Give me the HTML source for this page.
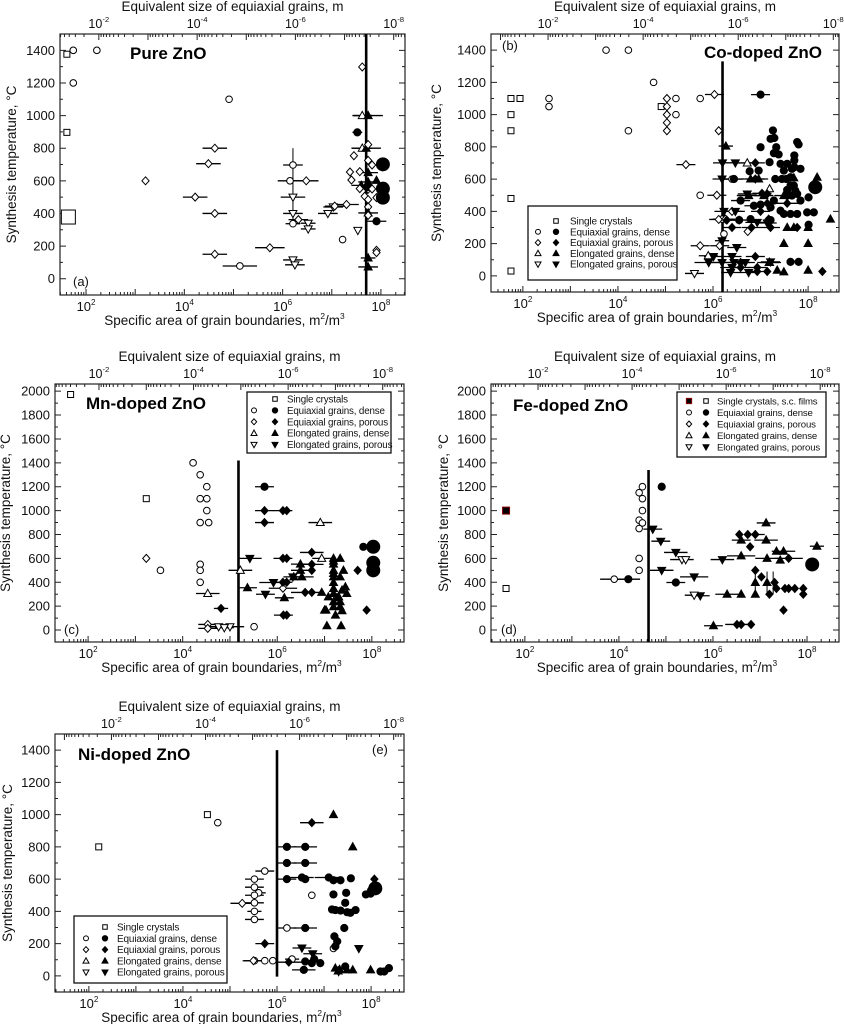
<!DOCTYPE html>
<html><head><meta charset="utf-8">
<style>
html,body{margin:0;padding:0;background:#fff;}
svg{display:block;font-family:"Liberation Sans",sans-serif;}
</style></head>
<body>
<svg id="fig" width="844" height="1024" viewBox="0 0 844 1024" xmlns="http://www.w3.org/2000/svg"></svg>
<script>
// ===== Shared tick data =====
const yTicks1500 = [0,200,400,600,800,1000,1200,1400];
const yTicks2000 = [0,200,400,600,800,1000,1200,1400,1600,1800,2000];
const xTickExps = [2,4,6,8];
const topTickExps = [-2,-4,-6,-8];

// ===== Panel (a) Pure ZnO =====
const aX=[1.61,1.61,1.64,1.74,2.22,1.74,4.91,5.13,7.22,3.21,4.62,4.49,4.22,4.62,4.62,5.74,6.21,6.15,6.48,6.21,6.21,6.21,6.32,6.52,6.52,6.21,6.25,6.92,7.03,7.06,7.30,7.53,7.62,7.62,7.74,7.52,7.62,7.70,7.45,7.74,7.74,7.82,7.37,7.57,7.40,7.74,7.74,7.91,7.60,7.57,7.74,7.72,7.82,7.67,7.74,7.74,7.91,7.91,7.74,7.74,7.91,7.91,7.74,7.74,8.04,8.04,8.04];
const aT=[1376,897,378,1400,1400,1200,1100,78,240,600,800,705,500,400,150,190,697,600,600,500,400,337,362,340,305,115,85,400,440,445,455,296,1298,1000,1000,897,800,800,754,822,725,697,654,656,605,650,593,603,572,552,548,560,550,505,485,440,497,352,403,388,174,160,127,72,701,552,497];
const aK=["s","s","S","o","o","o","o","o","o","d","d","d","d","d","d","d","o","o","d","v","v","o","d","v","v","v","v","v","v","d","d","v","d","t","T","O","t","T","d","d","d","d","d","d","d","T","T","T","T","d","d","O","d","d","d","d","d","O","T","d","d","d","T","T","B","B","B"];
const aE=[0,0,0,0,0,0,0,0.35,0,0,0.25,0.25,0.25,0.25,0.25,0.3,0.2,0.25,0.25,0.25,0.2,0.15,0.2,0.15,0.15,0.2,0.2,0.2,0.2,0.2,0.25,0,0,0.2,0.3,0.1,0.2,0.3,0,0,0,0,0,0,0,0.2,0.2,0,0.2,0,0,0,0,0,0,0,0,0.2,0.2,0,0,0,0.15,0.2,0,0,0];
const aVX=[6.21], aVlo=[330], aVhi=[800];

// ===== Panel (b) Co-doped ZnO =====
const bX=[1.75,1.75,1.75,1.75,1.75,1.94,4.91,2.55,2.55,3.75,4.22,4.22,4.75,5.22,5.22,5.73,5.73,6.40,6.19,6.23,
5.03,5.03,5.03,5.03,5.03,6.03,6.12,6.08,5.43,5.73,6.12,6.14,6.73,6.40,6.26,5.61,5.90,6.72,7.19,7.19,
7.0,7.26,7.0,7.21,7.29,7.33,7.38,7.56,7.42,7.49,7.45,7.54,7.31,7.63,7.77,7.80,7.71,7.71,7.71,7.63,7.70,7.56,7.73,7.77,7.56,7.66,7.84,8.01,7.28,7.21,7.42,7.49,7.63,7.77,7.98,8.12,8.01,7.63,7.80,6.86,6.96,6.77,7.19,7.28,6.79,6.58,6.44,6.55,7.21,7.0,7.66,7.84,8.15,
6.89,6.89,7.03,7.14,7.14,7.0,7.17,7.21,6.81,7.77,7.56,6.40,6.29,6.55,6.89,6.58,6.93,6.58,7.14,6.93,8.30,
6.27,6.96,7.70,8.19,7.07,7.49,7.56,7.70,7.49,8.0,8.47,8.0,7.18,7.35,7.49,8.0,6.75,6.79,
6.20,6.47,6.19,6.72,6.23,6.47,6.19,6.50,6.93,7.14,6.40,6.01,5.91,6.19,6.44,6.68,6.40,6.75,6.37,7.21];
const bT=[1100,1000,900,480,30,1100,1050,1100,1050,1400,1400,900,1200,1100,1000,1100,500,600,352,260,
1100,1050,1000,950,900,1125,900,500,690,187,350,187,275,400,352,15,125,700,540,83,
1124,902,798,850,855,798,753,695,695,653,601,601,601,612,830,815,747,716,674,560,560,533,529,508,498,498,467,487,467,425,404,384,384,384,394,394,317,87,87,435,653,649,705,761,352,467,601,346,346,442,664,664,550,
701,601,512,508,450,400,352,300,300,300,450,300,346,346,120,83,52,52,27,27,27,
805,601,608,612,498,498,300,300,201,201,352,300,83,35,25,35,498,601,
701,701,601,508,400,400,218,176,332,328,120,120,83,83,83,83,52,21,21,87];
const bK=["s","s","s","s","s","s","s","o","o","o","o","o","o","o","o","o","o","o","o","o",
"d","d","d","d","d","d","d","d","d","d","d","d","d","d","d","v","t","t","t","t",
"O","O","O","O","O","O","O","O","O","O","O","O","O","O","O","O","O","O","O","O","O","O","O","O","O","O","O","O","O","O","O","O","O","O","O","O","O","O","O","O","O","O","O","O","O","O","O","O","O","O","O","O","B",
"D","D","D","D","D","D","D","D","D","D","D","D","D","D","D","D","D","D","D","D","D",
"T","T","T","T","T","T","T","T","T","T","T","T","T","T","T","T","T","T",
"V","V","V","V","V","V","V","V","V","V","V","V","V","V","V","V","V","V","V","V"];
const bE=[0,0,0,0,0,0,0,0,0,0,0,0,0,0,0,0,0,0.2,0.2,0,
0,0,0,0,0,0.2,0,0.2,0.2,0.2,0.2,0.2,0,0.2,0.2,0.2,0.2,0.2,0,0.2,
0.2,0,0,0,0,0,0,0,0,0,0,0,0,0,0,0,0,0,0,0,0,0,0,0,0,0,0,0,0,0,0,0,0,0,0,0,0,0,0,0.2,0,0,0,0,0,0.2,0.2,0,0,0,0,0,0,
0.2,0.2,0.2,0,0.25,0.2,0,0.2,0.2,0,0.3,0.2,0.2,0.2,0.2,0.2,0.2,0.2,0,0.2,0,
0.15,0.2,0,0,0.2,0.2,0,0,0,0,0,0,0.25,0,0,0,0.25,0.2,
0.2,0.2,0.2,0.2,0.2,0.2,0.15,0.2,0.25,0.2,0.2,0.2,0.3,0.25,0.2,0.2,0.25,0.2,0.2,0.2];
const bVX=[], bVlo=[], bVhi=[];

// ===== Panel (c) Mn-doped ZnO =====
const cX=[1.63,3.23,3.23,4.53,4.53,6.12,3.53,4.22,4.37,4.51,4.37,4.51,4.51,4.37,4.55,4.37,4.37,4.37,5.51,
4.53,5.22,6.91,6.94,4.76,5.0,4.88,5.42,5.75,6.33,
4.81,5.73,5.73,6.12,6.20,5.73,6.12,6.20,6.12,6.20,6.13,6.20,6.73,6.73,6.73,6.59,6.73,7.70,7.89,
5.37,6.15,6.49,6.49,6.52,6.35,5.92,7.19,7.33,7.19,7.19,7.19,7.40,7.33,7.19,7.19,7.44,7.37,7.19,7.26,7.19,7.33,7.19,7.33,7.0,7.03,7.37,7.47,7.19,7.19,6.94,7.23,7.05,7.35,7.30,7.08,
7.82,8.03,8.03,8.03];
const cT=[1972,1100,600,47,14,350,500,1400,1300,1200,1100,1100,1000,900,900,550,500,400,28,
306,500,900,600,28,28,20,600,300,445,
181,1200,1000,1000,1000,900,600,600,400,400,125,125,650,550,500,315,315,500,167,
354,270,552,500,445,445,398,600,600,552,500,445,500,445,398,348,362,334,306,270,237,237,195,195,167,167,162,306,577,474,315,125,36,36,278,278,
697,697,563,500];
const cK=["s","s","d","d","d","d","o","o","o","o","o","o","o","o","o","o","o","o","o",
"t","t","t","t","v","v","v","V","V","V",
"D","O","D","D","D","D","D","D","D","D","D","D","D","D","D","D","D","D","D",
"T","T","T","T","T","T","V","T","T","T","T","T","T","T","T","T","T","T","T","T","T","T","T","T","T","T","T","T","T","T","T","T","T","T","T","T",
"O","B","B","B"];
const cE=[0,0,0,0.2,0.2,0.3,0,0,0,0,0,0,0,0,0,0,0,0,0,
0.25,0.25,0.25,0.2,0.2,0.3,0.2,0.25,0.2,0.2,
0.15,0.2,0.2,0.2,0,0.2,0.2,0,0.2,0,0.2,0,0.25,0.25,0,0.3,0,0,0,
0.2,0.2,0.2,0.2,0.25,0,0.3,0,0,0,0,0,0,0,0,0,0,0,0,0,0,0,0,0,0,0,0,0,0,0,0,0,0,0,0,0,
0,0,0,0];
const cVX=[], cVlo=[], cVhi=[];

// ===== Panel (d) Fe-doped ZnO =====
const dX=[1.6,1.6,4.5,4.43,4.5,4.5,4.43,4.5,4.43,4.43,4.43,3.9,
4.91,4.2,5.21,8.11,
4.72,4.89,5.21,4.91,5.6,5.73,6.2,5.34,5.42,5.6,
6.01,6.3,6.6,6.9,6.6,7.13,7.13,6.6,7.15,7.35,7.5,7.43,8.21,6.9,7.15,
6.56,6.74,6.9,6.79,6.9,7.03,7.31,7.35,7.53,7.61,7.74,7.92,7.92,7.2,7.61,7.5,6.51,6.6,6.81];
const dT=[1000,348,1200,1150,1100,1000,920,897,850,600,500,426,
1200,426,398,549,
845,744,650,500,445,287,590,590,590,292,
36,300,300,300,753,753,897,621,600,660,660,585,702,398,398,
800,800,800,697,500,445,398,348,348,348,348,348,300,300,600,167,47,47,47];
const dK=["F","s","o","o","o","o","o","o","o","o","o","o",
"O","O","O","B",
"V","V","V","V","V","V","V","v","v","v",
"T","T","T","T","T","T","T","T","T","T","T","T","T","T","T",
"D","D","D","D","D","D","D","D","D","D","D","D","D","D","D","D","D","D","D"];
const dE=[0,0,0,0,0,0,0,0,0,0,0,0.3,
0,0.25,0.2,0,
0.2,0.2,0.25,0.25,0.3,0.2,0.25,0.25,0,0.2,
0.2,0.25,0,0,0.2,0.25,0.2,0.3,0.25,0,0.25,0,0.15,0,0,
0,0,0.2,0,0,0,0,0,0,0,0,0,0,0,0.3,0,0.25,0,0];
const dVX=[6.9,7.15,7.28], dVlo=[300,300,300], dVhi=[500,490,490];

// ===== Panel (e) Ni-doped ZnO =====
const eX=[2.21,4.52,4.74,5.74,5.52,5.52,5.61,5.52,5.52,5.52,5.52,5.52,5.74,5.91,6.21,6.32,6.74,7.2,
5.26,5.5,5.74,6.74,8.07,6.25,
6.21,6.6,6.21,6.6,6.21,6.53,6.6,7.1,7.2,7.35,7.57,7.2,7.47,7.45,7.17,7.24,7.35,7.49,7.56,7.67,7.43,6.6,7.22,7.28,7.24,7.99,7.89,8.0,8.09,6.57,6.74,6.92,6.79,6.6,7.45,8.2,8.28,8.38,
7.2,7.61,7.24,7.33,7.49,7.61,7.99,7.3,
6.53,6.76,7.74,7.31];
const eT=[800,1000,950,650,600,550,515,500,453,400,350,94,94,94,297,104,500,170,
450,94,200,950,600,85,
800,800,700,700,600,610,600,610,593,593,605,505,515,453,412,408,405,395,391,408,297,297,245,214,183,510,505,530,543,37,79,79,104,89,58,27,27,48,
1000,800,48,40,37,37,37,30,
173,137,170,27];
const eK=["s","s","o","o","o","o","o","o","o","o","o","o","o","o","o","o","o","o",
"d","d","D","D","D","D",
"O","O","O","O","O","O","O","O","O","O","O","O","O","O","O","O","O","O","O","O","O","O","O","O","O","O","O","O","B","O","O","O","O","O","O","O","O","O",
"T","T","T","T","T","T","T","T",
"V","V","V","V"];
const eE=[0,0,0,0.2,0.2,0.2,0.15,0.2,0.2,0.15,0.2,0.25,0,0,0.2,0.15,0,0,
0.25,0.2,0.2,0.25,0,0.3,
0.2,0.25,0.2,0.25,0.2,0.25,0,0.3,0,0,0,0,0,0,0,0,0,0,0,0,0,0.25,0,0,0,0,0,0,0,0.25,0,0,0,0,0,0,0,0,
0,0,0,0,0,0,0,0,
0.2,0.2,0,0];
const eVX=[], eVlo=[], eVhi=[];

// ===== Rendering =====
const NS="http://www.w3.org/2000/svg";
const fig=document.getElementById('fig');
function mk(tag,attrs,parent){const e=document.createElementNS(NS,tag);for(const k in attrs)e.setAttribute(k,attrs[k]);(parent||fig).appendChild(e);return e;}

function marker(g,k,px,py,s){
  s=s||1;
  const open=(k===k.toLowerCase()&&k!=="B")||k==="S";
  const fill=open?"#fff":"#000";
  const st={fill:fill,stroke:"#000","stroke-width":1};
  let el;
  const lk=k.toLowerCase();
  if(k==="B"){el=mk('circle',{cx:px,cy:py,r:7,fill:"#000"},g);}
  else if(k==="S"){el=mk('rect',Object.assign({x:px-7,y:py-7,width:14,height:14},st),g);}
  else if(k==="F"){el=mk('rect',{x:px-3.5*s,y:py-3.5*s,width:7*s,height:7*s,fill:"#000",stroke:"#8b0000","stroke-width":1},g);}
  else if(lk==="s"){el=mk('rect',Object.assign({x:px-3*s,y:py-3*s,width:6*s,height:6*s},st),g);}
  else if(lk==="o"){el=mk('circle',Object.assign({cx:px,cy:py,r:(open?3.3:3.6)*s},st),g);}
  else if(lk==="d"){el=mk('polygon',Object.assign({points:`${px},${py-4*s} ${px+3.6*s},${py} ${px},${py+4*s} ${px-3.6*s},${py}`},st),g);}
  else if(lk==="t"){el=mk('polygon',Object.assign({points:`${px},${py-4.2*s} ${px+4*s},${py+3*s} ${px-4*s},${py+3*s}`},st),g);}
  else {el=mk('polygon',Object.assign({points:`${px},${py+4.2*s} ${px+4*s},${py-3*s} ${px-4*s},${py-3*s}`},st),g);}
  
  
}

function supText(g,x,y,base,exp,size,anchor){
  const t=mk('text',{x:x,y:y,"font-size":size,"text-anchor":anchor||"middle",fill:"#111"},g);
  const a=document.createElementNS(NS,'tspan');a.textContent=base;t.appendChild(a);
  const b=document.createElementNS(NS,'tspan');b.setAttribute('dy',-6);b.setAttribute('font-size',size*0.62);b.textContent=exp;t.appendChild(b);
  return t;
}

function panel(c,X,T,K,E,VX,VLO,VHI){
  const g=mk('g',{});
  
  
  const sx=v=>c.x0+(v-c.lx0)/(c.lx1-c.lx0)*(c.x1-c.x0);
  const sy=t=>c.y1-(t-c.t0)/(c.t1-c.t0)*(c.y1-c.y0);
  const fr=mk('rect',{x:c.x0,y:c.y0,width:c.x1-c.x0,height:c.y1-c.y0,fill:"none",stroke:"#222","stroke-width":1.2},g);
  
  
  let d="";
  for(let dec=Math.floor(c.lx0);dec<=Math.ceil(c.lx1);dec++){
    for(let m=1;m<=9;m++){
      const lv=dec+Math.log10(m);
      if(lv>=c.lx0&&lv<=c.lx1){const px=sx(lv);const L=m===1?6:3;d+=`M${px},${c.y1}v${-L}`;}
      const tv=dec-Math.log10(m)+c.topOff;
      if(tv>=c.lx0&&tv<=c.lx1){const px=sx(tv);const L=m===1?6:3;d+=`M${px},${c.y0}v${L}`;}
    }
  }
  for(let t=Math.ceil(c.t0/100)*100;t<=c.t1;t+=100){
    const py=sy(t);const L=(t%200===0)?6:3;
    d+=`M${c.x0},${py}h${L}M${c.x1},${py}h${-L}`;
  }
  const tk=mk('path',{d:d,stroke:"#222","stroke-width":1,fill:"none"},g);
  
  
  xTickExps.forEach(ex=>{
    const t=supText(g,sx(ex),c.y1+16,"10",ex,13);
    
    
  });
  topTickExps.forEach(ex=>{
    const t=supText(g,sx(-ex+c.topOff),c.y0-6,"10",ex,12.5);
    
    
  });
  c.yt.forEach(v=>{
    const t=mk('text',{x:c.x0-5,y:sy(v)+4.5,"font-size":13,"text-anchor":"end",fill:"#111"},g);
    t.textContent=v;
    
    
  });
  const xt=supText(g,(c.x0+c.x1)/2-8,c.y1+30,"Specific area of grain boundaries, m","2",13.5);
  const extra=document.createElementNS(NS,'tspan');extra.setAttribute('dy',6);extra.textContent="/m";xt.appendChild(extra);
  const e2=document.createElementNS(NS,'tspan');e2.setAttribute('dy',-6);e2.setAttribute('font-size',8.4);e2.textContent="3";xt.appendChild(e2);
  
  
  const tt=mk('text',{x:(c.x0+c.x1)/2,y:c.y0-23,"font-size":13.5,"text-anchor":"middle",fill:"#111"},g);
  tt.textContent="Equivalent size of equiaxial grains, m";
  
  
  const yc=(c.y0+c.y1)/2;
  const yt=mk('text',{x:c.ytx,y:yc,"font-size":13.5,"text-anchor":"middle",fill:"#111",transform:`rotate(-90 ${c.ytx} ${yc})`},g);
  yt.textContent="Synthesis temperature, °C";
  
  
  const ti=mk('text',{x:c.title[1],y:c.title[2],"font-size":17,"font-weight":"bold","text-anchor":c.title[3],fill:"#000"},g);
  ti.textContent=c.title[0];
  
  
  const lb=mk('text',{x:c.lab[1],y:c.lab[2],"font-size":13,fill:"#111"},g);
  lb.textContent=c.lab[0];
  
  
  const vl=mk('line',{x1:sx(c.lineX),x2:sx(c.lineX),y1:sy(c.lineTop),y2:sy(c.lineBot),stroke:"#000","stroke-width":2.6},g);
  
  
  VX.forEach((v,i)=>{
    const l=mk('line',{x1:sx(v),x2:sx(v),y1:sy(VLO[i]),y2:sy(VHI[i]),stroke:"#000","stroke-width":1},g);
    
    
  });
  X.forEach((v,i)=>{
    if(E[i]>0){
      const l=mk('line',{x1:sx(v-E[i]),x2:sx(v+E[i]),y1:sy(T[i]),y2:sy(T[i]),stroke:"#000","stroke-width":1.3},g);
      
      
    }
  });
  X.forEach((v,i)=>marker(g,K[i],sx(v),sy(T[i])));
  if(c.leg){
    const L=c.leg;
    const lg=mk('g',{},g);
    
    
    const bx=mk('rect',{x:L.x,y:L.y,width:L.w,height:L.h,fill:"#fff",stroke:"#111","stroke-width":1.3},lg);
    
    
    L.rows.forEach((r,i)=>{
      const yy=L.ry+i*L.dy;
      if(r[0])marker(lg,r[0],L.c1,yy,0.75);
      if(r[1])marker(lg,r[1],L.c2,yy,0.75);
      const t=mk('text',{x:L.tx,y:yy+3.5,"font-size":L.fs,"letter-spacing":"-0.15",fill:"#111"},lg);
      t.textContent=r[2];
      
      
    });
  }
}

const rowsStd=[[null,"s","Single crystals"],["o","O","Equiaxial grains, dense"],["d","D","Equiaxial grains, porous"],["t","T","Elongated grains, dense"],["v","V","Elongated grains, porous"]];
const rowsFe=[["F","s","Single crystals, s.c. films"],["o","O","Equiaxial grains, dense"],["d","D","Equiaxial grains, porous"],["t","T","Elongated grains, dense"],["v","V","Elongated grains, porous"]];

panel({id:"a",x0:60,x1:405,y0:34,y1:295,lx0:1.47,lx1:8.49,t0:-100,t1:1500,yt:yTicks1500,topOff:0.26,ytx:16,
  lineX:7.70,lineTop:1500,lineBot:-100,title:["Pure ZnO",130,59,"start"],lab:["(a)",73,286]},aX,aT,aK,aE,aVX,aVlo,aVhi);
panel({id:"b",x0:491,x1:839,y0:34,y1:292,lx0:1.33,lx1:8.65,t0:-100,t1:1500,yt:yTicks1500,topOff:0.53,ytx:441,
  lineX:6.2,lineTop:1330,lineBot:-100,title:["Co-doped ZnO",822,58,"end"],lab:["(b)",502,50],
  leg:{x:528,y:206,w:149,h:74,c1:538,c2:556,tx:570,ry:221,dy:10.8,fs:10,rows:rowsStd}},bX,bT,bK,bE,bVX,bVlo,bVhi);
panel({id:"c",x0:55,x1:404,y0:384,y1:642,lx0:1.30,lx1:8.68,t0:-100,t1:2060,yt:yTicks2000,topOff:0.23,ytx:10,
  lineX:5.18,lineTop:1420,lineBot:-100,title:["Mn-doped ZnO",86,409,"start"],lab:["(c)",64,634],
  leg:{x:247,y:392,w:144,h:61,c1:254,c2:275,tx:287,ry:399,dy:11.4,fs:9.8,rows:rowsStd}},cX,cT,cK,cE,cVX,cVlo,cVhi);
panel({id:"d",x0:491,x1:839,y0:384,y1:642,lx0:1.28,lx1:8.68,t0:-100,t1:2060,yt:yTicks2000,topOff:0.28,ytx:448,
  lineX:4.63,lineTop:1340,lineBot:-100,title:["Fe-doped ZnO",513,411,"start"],lab:["(d)",501,634],
  leg:{x:677,y:392,w:149,h:65,c1:689,c2:706,tx:717,ry:401,dy:11.5,fs:9.6,rows:rowsFe}},dX,dT,dK,dE,dVX,dVlo,dVhi);
panel({id:"e",x0:55,x1:404,y0:734,y1:992,lx0:1.28,lx1:8.70,t0:-100,t1:1500,yt:yTicks1500,topOff:0.48,ytx:12,
  lineX:6.0,lineTop:1400,lineBot:-5,title:["Ni-doped ZnO",78,760,"start"],lab:["(e)",372,754],
  leg:{x:74,y:916,w:153,h:67,c1:86,c2:105,tx:117,ry:927,dy:11.3,fs:10,rows:rowsStd}},eX,eT,eK,eE,eVX,eVlo,eVhi);
</script>
</body></html>
